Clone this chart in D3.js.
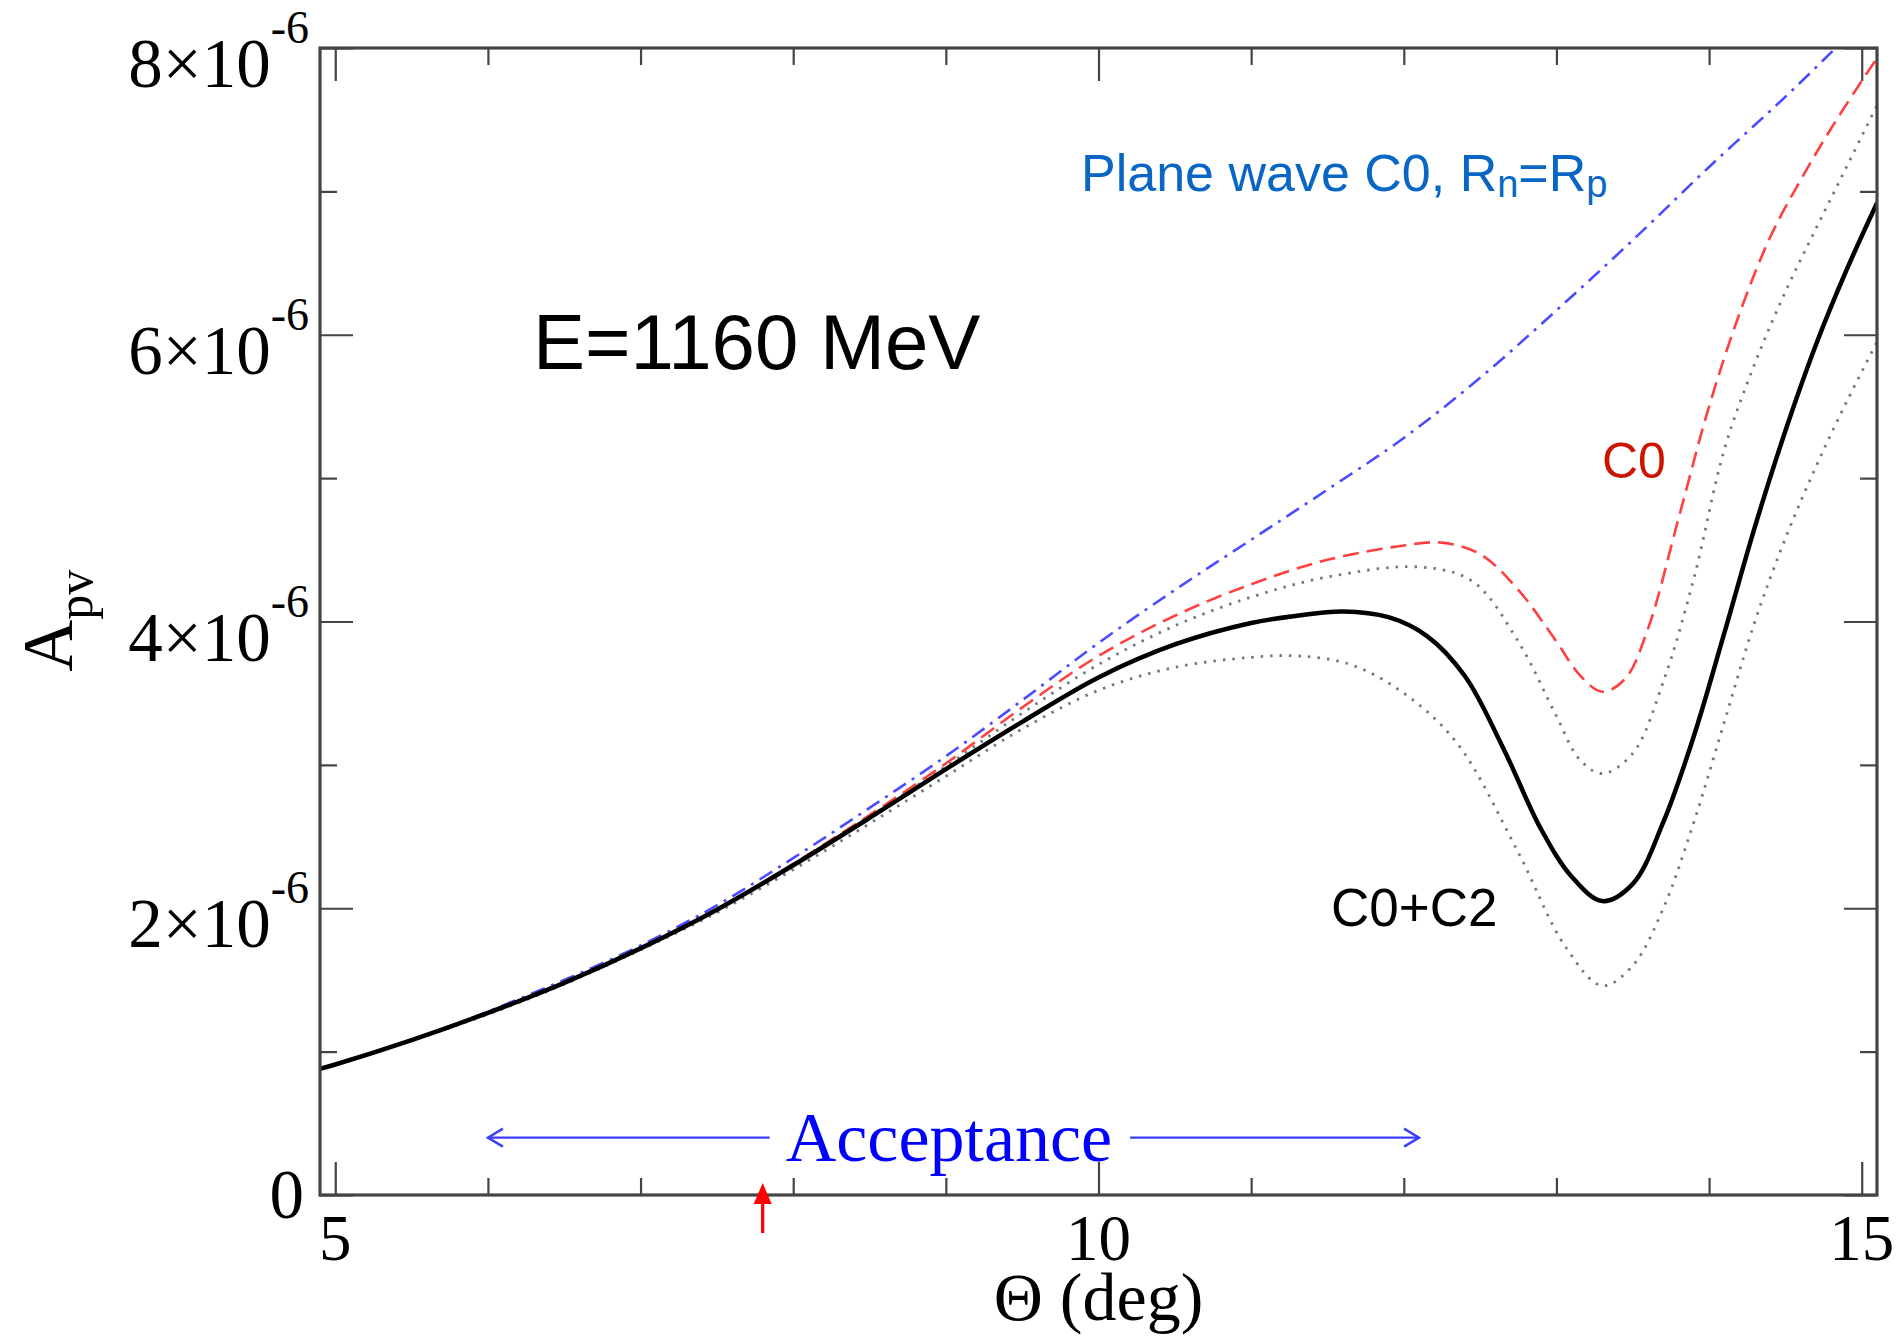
<!DOCTYPE html>
<html>
<head>
<meta charset="utf-8">
<script src="https://cdn.jsdelivr.net/npm/d3@7"></script>
<style>
  body { margin: 0; background: #fff; }
  svg { display: block; }
</style>
</head>
<body>
<div id="chart"></div>
<script>
// values, A_pv in units of 1e-6
const c0c2Theta = [4.9, 5, 5.5, 6, 6.5, 7, 7.5, 8, 8.5, 9, 9.5, 10, 10.5, 11, 11.3, 11.6, 11.9, 12.15, 12.4, 12.65, 12.9, 13.1, 13.3, 13.5, 13.7, 13.9, 14.1, 14.3, 14.5, 14.7, 14.9, 15.1];
const c0c2Apv = [0.88, 0.91, 1.08, 1.27, 1.48, 1.72, 1.99, 2.30, 2.63, 2.97, 3.30, 3.61, 3.84, 3.99, 4.04, 4.07, 4.03, 3.90, 3.62, 3.12, 2.55, 2.22, 2.05, 2.17, 2.60, 3.20, 3.92, 4.66, 5.33, 5.93, 6.45, 6.92];

const c0Theta = [4.9, 5, 5.5, 6, 6.5, 7, 7.5, 8, 8.5, 9, 9.5, 10, 10.5, 11, 11.5, 12, 12.25, 12.5, 12.75, 13.0, 13.15, 13.3, 13.45, 13.6, 13.8, 14.0, 14.2, 14.4, 14.6, 14.8, 15.0, 15.1];
const c0Apv = [0.88, 0.91, 1.08, 1.27, 1.48, 1.72, 1.99, 2.31, 2.65, 3.01, 3.40, 3.76, 4.04, 4.26, 4.43, 4.53, 4.55, 4.47, 4.22, 3.86, 3.63, 3.51, 3.60, 3.95, 4.72, 5.50, 6.15, 6.68, 7.08, 7.44, 7.77, 7.93];

const upperTheta = [4.9, 5, 5.5, 6, 6.5, 7, 7.5, 8, 8.5, 9, 9.5, 10, 10.5, 11, 11.5, 12.1, 12.45, 12.75, 13.0, 13.15, 13.3, 13.5, 13.7, 13.9, 14.1, 14.3, 14.5, 14.7, 14.9, 15.1];
const upperApv = [0.88, 0.91, 1.08, 1.27, 1.48, 1.72, 1.99, 2.30, 2.64, 2.99, 3.36, 3.70, 3.97, 4.17, 4.31, 4.38, 4.28, 3.86, 3.34, 3.04, 2.94, 3.08, 3.58, 4.30, 5.20, 5.80, 6.30, 6.74, 7.17, 7.60];

const lowerTheta = [4.9, 5, 5.5, 6, 6.5, 7, 7.5, 8, 8.5, 9, 9.5, 10, 10.5, 11, 11.3, 11.65, 12.0, 12.35, 12.74, 13.06, 13.3, 13.5, 13.7, 13.9, 14.1, 14.3, 14.5, 14.7, 14.9, 15.1];
const lowerApv = [0.88, 0.91, 1.08, 1.26, 1.47, 1.71, 1.97, 2.27, 2.59, 2.92, 3.25, 3.52, 3.68, 3.75, 3.76, 3.70, 3.50, 3.15, 2.41, 1.73, 1.46, 1.60, 2.00, 2.60, 3.30, 4.00, 4.58, 5.08, 5.53, 5.95];

const planeTheta = [4.9, 5, 5.5, 6, 6.5, 7, 7.5, 8, 8.5, 9, 9.5, 10, 10.5, 11, 11.5, 12, 12.5, 13, 13.5, 14, 14.5, 14.83, 15.1];
const planeApv = [0.88, 0.91, 1.08, 1.28, 1.50, 1.74, 2.02, 2.35, 2.70, 3.06, 3.45, 3.85, 4.22, 4.57, 4.92, 5.28, 5.70, 6.17, 6.66, 7.17, 7.66, 8.0, 8.28];

const xMajor = [5, 10, 15];
const xMinor = [6, 7, 8, 9, 11, 12, 13, 14];
const xTickLabels = ["5", "10", "15"];
const yMajor = [0, 2, 4, 6, 8];
const yMinor = [1, 3, 5, 7];
const yTickLabels = ["0", "2×10", "4×10", "6×10", "8×10"];
const yTickExp = "-6";

const acceptance = [6.0, 12.1];   // theta range of the acceptance arrow
const acceptanceY = 0.40;
const acceptanceTextX = 9.02;
const markerTheta = 7.8;          // red arrow on the axis

// Layout
const width = 1903, height = 1339;
const margin = { top: 48, right: 26, bottom: 144, left: 320 };
const innerWidth = width - margin.left - margin.right;
const innerHeight = height - margin.top - margin.bottom;

const svg = d3.select("#chart").append("svg")
  .attr("width", width)
  .attr("height", height)
  .style("background", "#fff");

const x = d3.scaleLinear().domain([4.9, 15.1]).range([margin.left, margin.left + innerWidth]);
const y = d3.scaleLinear().domain([0, 8]).range([margin.top + innerHeight, margin.top]);

const serif = "'Liberation Serif', 'Times New Roman', serif";
const sans = "'Liberation Sans', Arial, Helvetica, sans-serif";

svg.append("defs").append("clipPath").attr("id", "plotclip")
  .append("rect")
  .attr("x", x.range()[0]).attr("y", y.range()[1])
  .attr("width", innerWidth).attr("height", innerHeight);

// curves
const line = d3.line()
  .x(d => x(d[0]))
  .y(d => y(d[1]))
  .curve(d3.curveCatmullRom.alpha(0.5));

const series = [
  { theta: lowerTheta, apv: lowerApv, color: "#777", width: 2.8, dash: "2.5,7" },
  { theta: upperTheta, apv: upperApv, color: "#777", width: 2.8, dash: "2.5,7" },
  { theta: planeTheta, apv: planeApv, color: "#4b4bff", width: 2.6, dash: "15,7,3,7" },
  { theta: c0Theta, apv: c0Apv, color: "#ff4040", width: 2.6, dash: "16,8" },
  { theta: c0c2Theta, apv: c0c2Apv, color: "#000", width: 4.5, dash: null }
];

const curves = svg.append("g").attr("clip-path", "url(#plotclip)");
series.forEach(s => {
  curves.append("path")
    .datum(d3.zip(s.theta, s.apv))
    .attr("fill", "none")
    .attr("stroke", s.color)
    .attr("stroke-width", s.width)
    .attr("stroke-dasharray", s.dash)
    .attr("d", line);
});

// ticks on all four sides, pointing inward
const axisColor = "#444";
const tickAxis = (axis, values, size) => axis.tickValues(values).tickSize(size).tickFormat("");

function drawTicks(makeAxis, transform, major, minor) {
  [[major, -33], [minor, -17]].forEach(([vals, size]) => {
    svg.append("g")
      .attr("transform", transform)
      .attr("color", axisColor)
      .call(tickAxis(makeAxis(), vals, size))
      .call(g => g.select(".domain").remove())
      .call(g => g.selectAll(".tick line").attr("stroke-width", 2.2));
  });
}
drawTicks(() => d3.axisBottom(x), `translate(0,${y(0)})`, xMajor, xMinor);
drawTicks(() => d3.axisTop(x), `translate(0,${y(8)})`, xMajor, xMinor);
drawTicks(() => d3.axisLeft(y), `translate(${x(4.9)},0)`, yMajor, yMinor);
drawTicks(() => d3.axisRight(y), `translate(${x(15.1)},0)`, yMajor, yMinor);

// frame
svg.append("rect")
  .attr("x", x.range()[0]).attr("y", y.range()[1])
  .attr("width", innerWidth).attr("height", innerHeight)
  .attr("fill", "none")
  .attr("stroke", axisColor)
  .attr("stroke-width", 3.2);

// x tick labels
svg.append("g").selectAll("text")
  .data(xMajor)
  .join("text")
  .attr("x", d => x(d))
  .attr("y", y(0) + 65)
  .attr("text-anchor", "middle")
  .style("font-family", serif)
  .style("font-size", "65px")
  .text((d, i) => xTickLabels[i]);

// y tick labels with exponent
const yLab = svg.append("g").selectAll("text")
  .data(yMajor)
  .join("text")
  .attr("x", d => d === 0 ? x(4.9) - 16 : x(4.9) - 11)
  .attr("y", d => d === 0 ? y(d) + 23 : y(d) + 39)
  .attr("text-anchor", "end")
  .style("font-family", serif)
  .style("font-size", "69px");
yLab.append("tspan").text((d, i) => yTickLabels[i]);
yLab.filter(d => d !== 0).append("tspan")
  .attr("dy", -44)
  .style("font-size", "46px")
  .text(yTickExp);

// axis titles
svg.append("text")
  .attr("x", (x.range()[0] + x.range()[1]) / 2)
  .attr("y", 1320)
  .attr("text-anchor", "middle")
  .style("font-family", serif)
  .style("font-size", "68px")
  .text("Θ (deg)");

const yTitle = svg.append("text")
  .attr("transform", `translate(72,${y(3.65)}) rotate(-90)`)
  .style("font-family", serif)
  .style("font-size", "72px");
yTitle.append("tspan").text("A");
yTitle.append("tspan").attr("dy", 20).style("font-size", "50px").text("pv");

// annotations
svg.append("text")
  .attr("x", 533).attr("y", 369)
  .style("font-family", sans)
  .style("font-size", "78px")
  .attr("fill", "#000")
  .text("E=1160 MeV");

const pw = svg.append("text")
  .attr("x", 1081).attr("y", 191)
  .style("font-family", sans)
  .style("font-size", "52px")
  .attr("fill", "#0a66c4");
pw.append("tspan").text("Plane wave C0, R");
pw.append("tspan").attr("dy", 6).style("font-size", "38px").text("n");
pw.append("tspan").attr("dy", -6).text("=R");
pw.append("tspan").attr("dy", 6).style("font-size", "38px").text("p");

svg.append("text")
  .attr("x", 1602).attr("y", 478)
  .style("font-family", sans)
  .style("font-size", "50px")
  .attr("fill", "#cc1500")
  .text("C0");

svg.append("text")
  .attr("x", 1331).attr("y", 926)
  .style("font-family", sans)
  .style("font-size", "53px")
  .attr("fill", "#000")
  .text("C0+C2");

// acceptance arrow
const accY = y(acceptanceY);
const accText = svg.append("text")
  .attr("x", x(acceptanceTextX))
  .attr("y", accY + 23)
  .attr("text-anchor", "middle")
  .style("font-family", serif)
  .style("font-size", "70px")
  .attr("fill", "#0000ff")
  .text("Acceptance");
const half = accText.node().getComputedTextLength() / 2;
const accBlue = "#3c3cff";
const acc = svg.append("g")
  .attr("stroke", accBlue)
  .attr("stroke-width", 2.4)
  .attr("fill", "none");
acc.append("line")
  .attr("x1", x(acceptance[0])).attr("x2", x(acceptanceTextX) - half - 16)
  .attr("y1", accY).attr("y2", accY);
acc.append("line")
  .attr("x1", x(acceptanceTextX) + half + 18).attr("x2", x(acceptance[1]))
  .attr("y1", accY).attr("y2", accY);
acc.append("path")
  .attr("d", `M${x(acceptance[0]) + 15},${accY - 9} L${x(acceptance[0])},${accY} L${x(acceptance[0]) + 15},${accY + 9}`);
acc.append("path")
  .attr("d", `M${x(acceptance[1]) - 15},${accY - 9} L${x(acceptance[1])},${accY} L${x(acceptance[1]) - 15},${accY + 9}`);

// red marker arrow
const mx = x(markerTheta);
const tipY = y(0) - 12;
svg.append("line")
  .attr("x1", mx).attr("x2", mx)
  .attr("y1", tipY + 16).attr("y2", tipY + 50)
  .attr("stroke", "#ff0000")
  .attr("stroke-width", 3.2);
svg.append("path")
  .attr("d", `M${mx},${tipY} L${mx - 9},${tipY + 21} L${mx + 9},${tipY + 21} Z`)
  .attr("fill", "#ff0000");
</script>
</body>
</html>
